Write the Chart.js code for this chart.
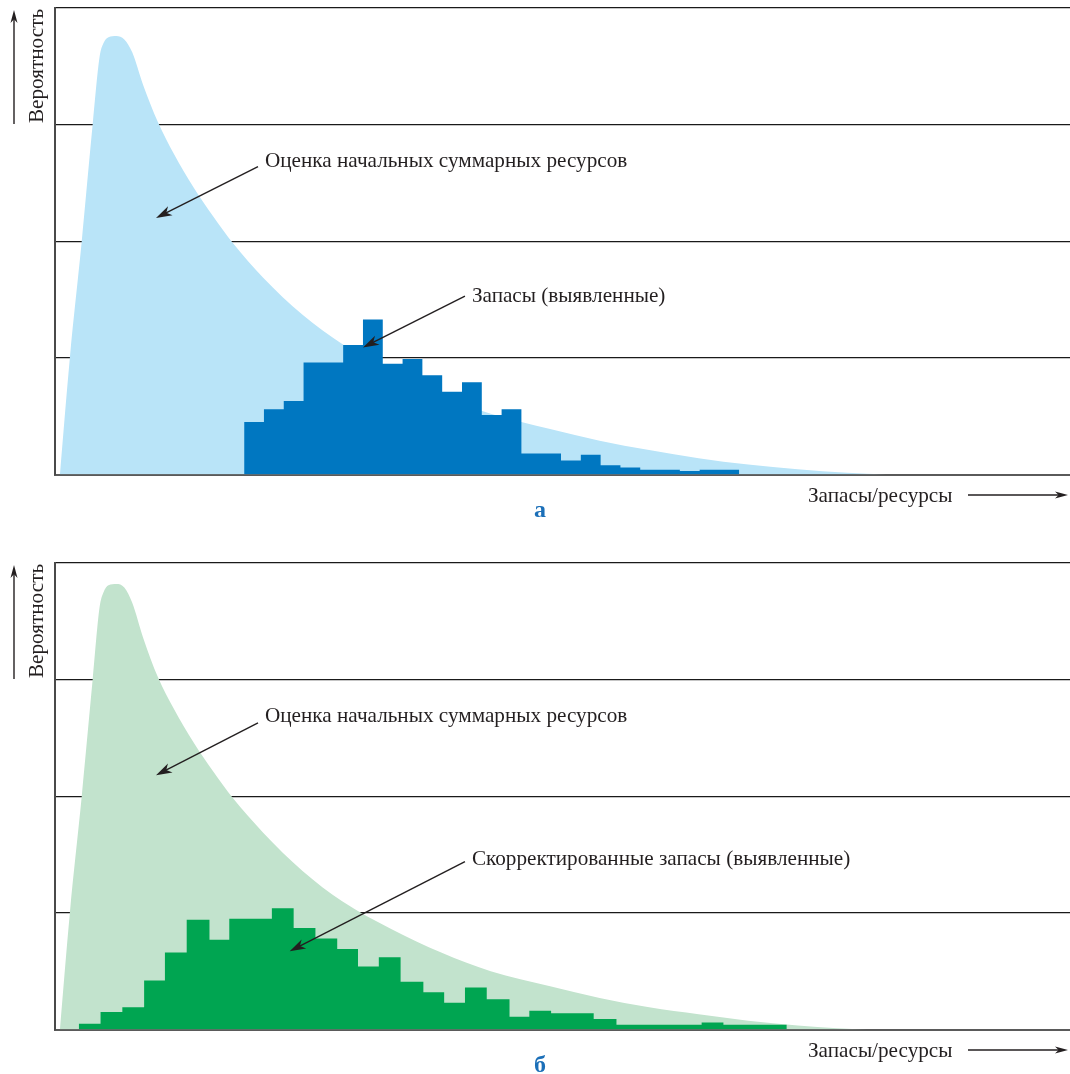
<!DOCTYPE html>
<html>
<head>
<meta charset="utf-8">
<script src="https://cdn.jsdelivr.net/npm/chart.js@4.4.1/dist/chart.umd.min.js"></script>
<style>
  body { margin: 0; background: #fff; }
  .panel { position: absolute; left: 0; width: 1070px; height: 519px; }
</style>
</head>
<body>
<div class="panel" style="top:0"><canvas id="chartA" width="1070" height="519"></canvas></div>
<div class="panel" style="top:555px"><canvas id="chartB" width="1070" height="519"></canvas></div>
<script>
// x in arbitrary "reserves" units, y in probability units (grid step = 1)
const X_MAX = 102.5;
const Y_MAX = 4;

// panel a: estimated initial resources (smooth density)
const curveAX = [0.5, 1.5, 2.7, 3.8, 4.5, 4.9, 5.4, 6.2, 7.0, 7.8, 8.9, 10.4, 12.0, 14.0, 16.0, 18.0, 21.0, 25.0, 29.0, 34.0, 39.0, 44.0, 50.0, 55.0, 60.0, 65.0, 70.0, 75.0, 80.0, 84.0];
const curveAY = [0, 1.0, 2.0, 3.0, 3.58, 3.70, 3.75, 3.76, 3.73, 3.62, 3.34, 3.02, 2.75, 2.46, 2.21, 1.98, 1.69, 1.37, 1.12, 0.87, 0.68, 0.52, 0.39, 0.29, 0.21, 0.14, 0.085, 0.045, 0.015, 0];

// panel a: discovered reserves histogram
const binEdgesA = [19.1, 21.1, 23.1, 25.1, 27.1, 29.1, 31.1, 33.1, 35.1, 37.1, 39.1, 41.1, 43.1, 45.1, 47.1, 49.1, 51.1, 53.1, 55.1, 57.1, 59.1, 61.1, 63.1, 65.1, 67.1, 69.1];
const binValuesA = [0.45, 0.56, 0.63, 0.96, 0.96, 1.11, 1.33, 0.95, 0.99, 0.85, 0.71, 0.79, 0.51, 0.56, 0.18, 0.18, 0.12, 0.17, 0.08, 0.06, 0.04, 0.04, 0.03, 0.04, 0.04];

// panel b: same estimate, slightly taller peak
const curveBX = [0.5, 1.5, 2.7, 3.8, 4.5, 4.9, 5.4, 6.2, 7.0, 7.8, 8.9, 10.4, 12.0, 14.0, 16.0, 18.0, 21.0, 25.0, 29.0, 34.0, 39.0, 44.0, 50.0, 55.0, 60.0, 65.0, 70.0, 75.0, 79.0, 82.0];
const curveBY = [0, 1.0, 2.0, 3.0, 3.62, 3.75, 3.81, 3.82, 3.79, 3.66, 3.36, 3.02, 2.75, 2.46, 2.21, 1.98, 1.69, 1.36, 1.10, 0.86, 0.66, 0.50, 0.37, 0.27, 0.19, 0.13, 0.075, 0.035, 0.01, 0];

// panel b: corrected discovered reserves histogram
const binEdgesB = [2.4, 4.6, 6.8, 9.0, 11.1, 13.3, 15.6, 17.6, 19.7, 21.9, 24.1, 26.3, 28.5, 30.6, 32.7, 34.9, 37.2, 39.3, 41.4, 43.6, 45.9, 47.9, 50.1, 52.2, 54.4, 56.7, 58.8, 61.0, 63.1, 65.3, 67.5, 69.6, 71.8, 73.9];
const binValuesB = [0.05, 0.15, 0.19, 0.42, 0.66, 0.94, 0.77, 0.95, 0.95, 1.04, 0.87, 0.78, 0.69, 0.54, 0.62, 0.41, 0.32, 0.23, 0.36, 0.26, 0.11, 0.16, 0.14, 0.14, 0.09, 0.04, 0.04, 0.04, 0.04, 0.06, 0.04, 0.04, 0.04];

const Y_TITLE = "Вероятность";
const X_TITLE = "Запасы/ресурсы";
const LABEL_RESOURCES = "Оценка начальных суммарных ресурсов";
const LABEL_RESERVES = "Запасы (выявленные)";
const LABEL_CORRECTED = "Скорректированные запасы (выявленные)";

const INK = "#231f20";
const FONT = '21.2px "Liberation Serif", "Times New Roman", serif';

function toPoints(xs, ys) {
  return xs.map((x, i) => ({ x: x, y: ys[i] }));
}

// histogram as a stepped outline: each value holds until the next edge
function stepPoints(edges, vals) {
  const pts = vals.map((v, i) => ({ x: edges[i], y: v }));
  pts.push({ x: edges[edges.length - 1], y: vals[vals.length - 1] });
  return pts;
}

function drawArrow(ctx, x1, y1, x2, y2, len, half) {
  const a = Math.atan2(y2 - y1, x2 - x1);
  const c = Math.cos(a), s = Math.sin(a);
  ctx.beginPath();
  ctx.moveTo(x1, y1);
  ctx.lineTo(x2 - c * len * 0.6, y2 - s * len * 0.6);
  ctx.lineWidth = 1.4;
  ctx.stroke();
  ctx.beginPath();
  ctx.moveTo(x2, y2);
  ctx.lineTo(x2 - c * len - s * half, y2 - s * len + c * half);
  ctx.lineTo(x2 - c * len * 0.72, y2 - s * len * 0.72);
  ctx.lineTo(x2 - c * len + s * half, y2 - s * len - c * half);
  ctx.closePath();
  ctx.fill();
}

const notesPlugin = {
  id: "notes",
  afterDraw(chart, args, opts) {
    const { ctx, chartArea: area } = chart;
    const sx = chart.scales.x, sy = chart.scales.y;
    ctx.save();
    ctx.fillStyle = INK;
    ctx.strokeStyle = INK;
    ctx.font = FONT;
    ctx.textBaseline = "alphabetic";

    opts.labels.forEach((l) => {
      ctx.textAlign = "left";
      ctx.fillText(l.text, sx.getPixelForValue(l.x), sy.getPixelForValue(l.y));
    });
    opts.pointers.forEach((p) => {
      drawArrow(ctx,
        sx.getPixelForValue(p.from[0]), sy.getPixelForValue(p.from[1]),
        sx.getPixelForValue(p.to[0]), sy.getPixelForValue(p.to[1]), 16, 5);
    });

    // y title, rotated, with arrow on its left
    ctx.save();
    ctx.translate(area.left - 12, area.top + 58);
    ctx.rotate(-Math.PI / 2);
    ctx.textAlign = "center";
    ctx.fillText(Y_TITLE, 0, 0);
    ctx.restore();
    drawArrow(ctx, area.left - 41, area.top + 116, area.left - 41, area.top + 2, 13, 3.5);

    // x title with arrow to the right
    ctx.textAlign = "left";
    ctx.fillText(X_TITLE, 808, area.bottom + 27);
    drawArrow(ctx, 968, area.bottom + 20.5, area.right - 2, area.bottom + 20.5, 13, 3.5);

    // panel letter
    ctx.font = 'bold 24px "Liberation Serif", serif';
    ctx.fillStyle = "#1b6fb8";
    ctx.textAlign = "center";
    ctx.fillText(opts.letter, 540, area.bottom + 42.5);
    ctx.restore();
  }
};

function makeChart(id, curve, hist, colors, notes) {
  return new Chart(document.getElementById(id), {
    type: "line",
    data: {
      datasets: [
        {
          data: hist,
          stepped: true,
          fill: "origin",
          backgroundColor: colors.bars,
          borderColor: "transparent",
          borderWidth: 0,
          pointRadius: 0,
        },
        {
          data: curve,
          cubicInterpolationMode: "monotone",
          fill: "origin",
          backgroundColor: colors.area,
          borderColor: "transparent",
          borderWidth: 0,
          pointRadius: 0,
        },
      ],
    },
    options: {
      responsive: false,
      animation: false,
      layout: { padding: { left: 55, top: 8, right: 0, bottom: 44.5 } },
      scales: {
        x: {
          type: "linear",
          min: 0,
          max: X_MAX,
          z: 1,
          ticks: { display: false },
          grid: { display: false, drawTicks: false },
          border: { display: true, color: "#5a5a5a", width: 2 },
        },
        y: {
          min: 0,
          max: Y_MAX,
          z: 1,
          ticks: { display: false, stepSize: 1 },
          grid: {
            drawTicks: false,
            color: (c) => (c.tick && c.tick.value === 0 ? "transparent" : "#1a1a1a"),
            lineWidth: 1.3,
          },
          border: { display: true, color: "#4a4a4a", width: 2 },
        },
      },
      plugins: {
        legend: { display: false },
        tooltip: { enabled: false },
        notes: notes,
      },
    },
    plugins: [notesPlugin],
  });
}

makeChart("chartA", toPoints(curveAX, curveAY), stepPoints(binEdgesA, binValuesA),
  { area: "#b9e4f8", bars: "#0077c1" },
  {
    letter: "а",
    labels: [
      { text: LABEL_RESOURCES, x: 21.2, y: 2.64 },
      { text: LABEL_RESERVES, x: 42.1, y: 1.48 },
    ],
    pointers: [
      { from: [20.5, 2.64], to: [10.2, 2.20] },
      { from: [41.4, 1.53], to: [31.1, 1.09] },
    ],
  });

makeChart("chartB", toPoints(curveBX, curveBY), stepPoints(binEdgesB, binValuesB),
  { area: "#c2e3cd", bars: "#00a551" },
  {
    letter: "б",
    labels: [
      { text: LABEL_RESOURCES, x: 21.2, y: 2.64 },
      { text: LABEL_CORRECTED, x: 42.1, y: 1.41 },
    ],
    pointers: [
      { from: [20.5, 2.63], to: [10.2, 2.18] },
      { from: [41.4, 1.44], to: [23.7, 0.67] },
    ],
  });
</script>
</body>
</html>
